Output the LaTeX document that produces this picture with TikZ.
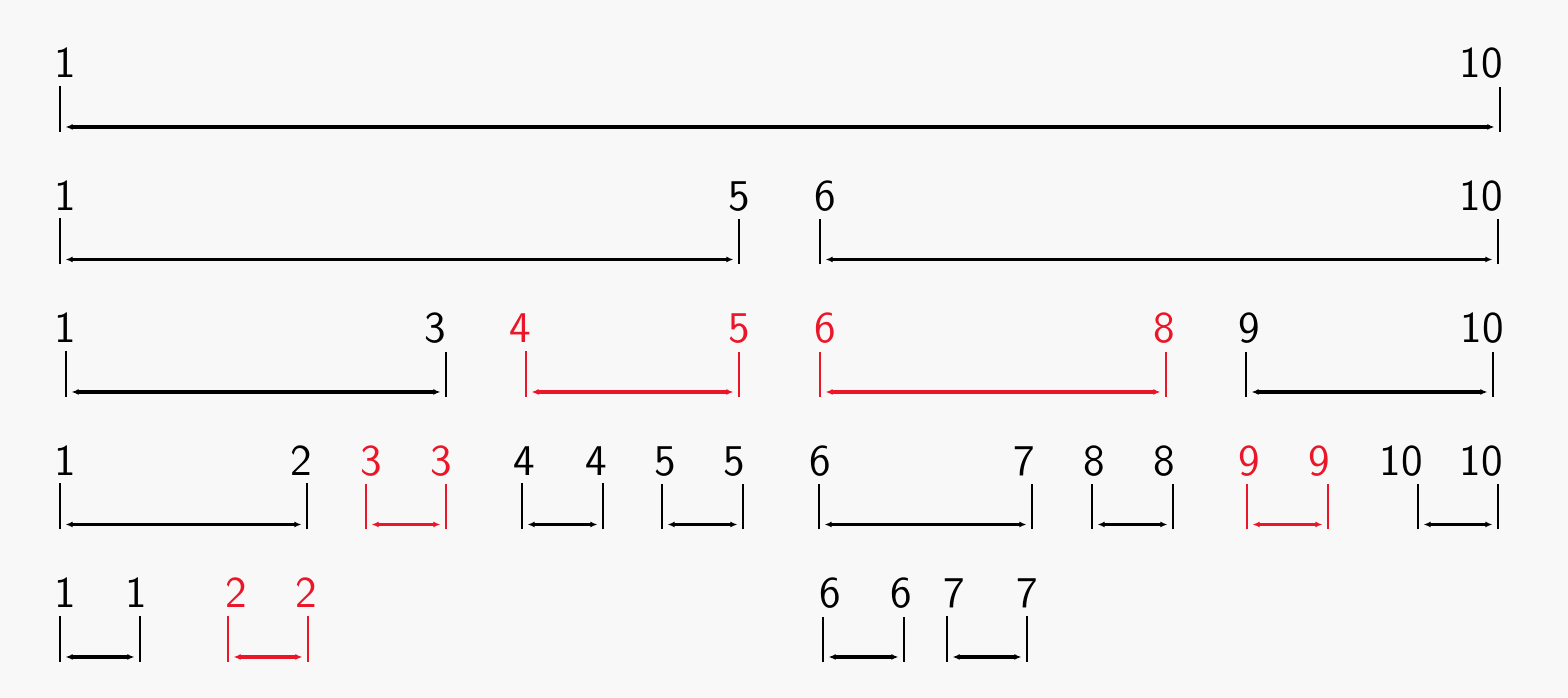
\documentclass[tikz,border=0pt]{standalone}
\usepackage{tikz}
\usetikzlibrary{arrows.meta}
\definecolor{paper}{RGB}{248,248,248}
\definecolor{hotred}{RGB}{235,22,40}

\begin{document}
\begin{tikzpicture}[x=0.01cm, y=-0.01cm,
  num/.style={anchor=base, inner sep=2pt, font=\sffamily\fontsize{12.5}{14}\selectfont},
  stub/.style={line width=0.55pt},
  seg/.style={line width=1pt, {Latex[length=2pt,width=1.7pt]}-{Latex[length=2pt,width=1.7pt]}, shorten <=1.6pt, shorten >=1.6pt},
  marked/.style={color=hotred}]
  \useasboundingbox (0,0) rectangle (1568,698);
  \fill[paper] (0,0) rectangle (1568,698);

  % Row 1: 1..10
  \node[num] (A1) at (65,78) {1};
  \node[num] (A10) at (1481,78) {10};
  \coordinate (A1p) at (60,127);
  \coordinate (A10p) at (1500,127);
  \draw[stub] (A1p) ++(0,5) -- (A1.south -| A1p);
  \draw[stub] (A10p) ++(0,5) -- (A10.south -| A10p);
  \draw[seg] (A1p) -- (A10p);

  % Row 2: 1..5, 6..10
  \node[num] (B1) at (65,210.5) {1};
  \node[num] (B5) at (739,210.5) {5};
  \node[num] (B6) at (825,210.5) {6};
  \node[num] (B10) at (1481,210.5) {10};
  \coordinate (B1p) at (60,259.5);
  \coordinate (B5p) at (739,259.5);
  \coordinate (B6p) at (820,259.5);
  \coordinate (B10p) at (1498,259.5);
  \draw[stub] (B1p) ++(0,5) -- (B1.south -| B1p);
  \draw[stub] (B5p) ++(0,5) -- (B5.south -| B5p);
  \draw[stub] (B6p) ++(0,5) -- (B6.south -| B6p);
  \draw[stub] (B10p) ++(0,5) -- (B10.south -| B10p);
  \draw[seg] (B1p) -- (B5p);
  \draw[seg] (B6p) -- (B10p);

  % Row 3: 1..3, 4..5, 6..8, 9..10
  \node[num] (C1) at (65,343) {1};
  \node[num] (C3) at (435,343) {3};
  \node[num, marked] (C4) at (520,343) {4};
  \node[num, marked] (C5) at (739,343) {5};
  \node[num, marked] (C6) at (825,343) {6};
  \node[num, marked] (C8) at (1164,343) {8};
  \node[num] (C9) at (1249,343) {9};
  \node[num] (C10) at (1482,343) {10};
  \coordinate (C1p) at (66,392);
  \coordinate (C3p) at (446,392);
  \coordinate (C4p) at (526,392);
  \coordinate (C5p) at (739,392);
  \coordinate (C6p) at (820,392);
  \coordinate (C8p) at (1166,392);
  \coordinate (C9p) at (1246,392);
  \coordinate (C10p) at (1493,392);
  \draw[stub] (C1p) ++(0,5) -- (C1.south -| C1p);
  \draw[stub] (C3p) ++(0,5) -- (C3.south -| C3p);
  \draw[stub, marked] (C4p) ++(0,5) -- (C4.south -| C4p);
  \draw[stub, marked] (C5p) ++(0,5) -- (C5.south -| C5p);
  \draw[stub, marked] (C6p) ++(0,5) -- (C6.south -| C6p);
  \draw[stub, marked] (C8p) ++(0,5) -- (C8.south -| C8p);
  \draw[stub] (C9p) ++(0,5) -- (C9.south -| C9p);
  \draw[stub] (C10p) ++(0,5) -- (C10.south -| C10p);
  \draw[seg] (C1p) -- (C3p);
  \draw[seg, marked] (C4p) -- (C5p);
  \draw[seg, marked] (C6p) -- (C8p);
  \draw[seg] (C9p) -- (C10p);

  % Row 4
  \node[num] (D1) at (65,475.5) {1};
  \node[num] (D2) at (301,475.5) {2};
  \node[num, marked] (D3a) at (371,475.5) {3};
  \node[num, marked] (D3b) at (441,475.5) {3};
  \node[num] (D4a) at (524,475.5) {4};
  \node[num] (D4b) at (596,475.5) {4};
  \node[num] (D5a) at (665,475.5) {5};
  \node[num] (D5b) at (734,475.5) {5};
  \node[num] (D6) at (820,475.5) {6};
  \node[num] (D7) at (1024,475.5) {7};
  \node[num] (D8a) at (1094,475.5) {8};
  \node[num] (D8b) at (1164,475.5) {8};
  \node[num, marked] (D9a) at (1249,475.5) {9};
  \node[num, marked] (D9b) at (1319,475.5) {9};
  \node[num] (D10a) at (1401,475.5) {10};
  \node[num] (D10b) at (1481,475.5) {10};
  \coordinate (D1p) at (60,524.5);
  \coordinate (D2p) at (307,524.5);
  \coordinate (D3ap) at (366,524.5);
  \coordinate (D3bp) at (446,524.5);
  \coordinate (D4ap) at (522,524.5);
  \coordinate (D4bp) at (603,524.5);
  \coordinate (D5ap) at (662,524.5);
  \coordinate (D5bp) at (743,524.5);
  \coordinate (D6p) at (819,524.5);
  \coordinate (D7p) at (1032,524.5);
  \coordinate (D8ap) at (1092,524.5);
  \coordinate (D8bp) at (1173,524.5);
  \coordinate (D9ap) at (1247,524.5);
  \coordinate (D9bp) at (1328,524.5);
  \coordinate (D10ap) at (1418,524.5);
  \coordinate (D10bp) at (1498,524.5);
  \draw[stub] (D1p) ++(0,5) -- (D1.south -| D1p);
  \draw[stub] (D2p) ++(0,5) -- (D2.south -| D2p);
  \draw[stub, marked] (D3ap) ++(0,5) -- (D3a.south -| D3ap);
  \draw[stub, marked] (D3bp) ++(0,5) -- (D3b.south -| D3bp);
  \draw[stub] (D4ap) ++(0,5) -- (D4a.south -| D4ap);
  \draw[stub] (D4bp) ++(0,5) -- (D4b.south -| D4bp);
  \draw[stub] (D5ap) ++(0,5) -- (D5a.south -| D5ap);
  \draw[stub] (D5bp) ++(0,5) -- (D5b.south -| D5bp);
  \draw[stub] (D6p) ++(0,5) -- (D6.south -| D6p);
  \draw[stub] (D7p) ++(0,5) -- (D7.south -| D7p);
  \draw[stub] (D8ap) ++(0,5) -- (D8a.south -| D8ap);
  \draw[stub] (D8bp) ++(0,5) -- (D8b.south -| D8bp);
  \draw[stub, marked] (D9ap) ++(0,5) -- (D9a.south -| D9ap);
  \draw[stub, marked] (D9bp) ++(0,5) -- (D9b.south -| D9bp);
  \draw[stub] (D10ap) ++(0,5) -- (D10a.south -| D10ap);
  \draw[stub] (D10bp) ++(0,5) -- (D10b.south -| D10bp);
  \draw[seg] (D1p) -- (D2p);
  \draw[seg, marked] (D3ap) -- (D3bp);
  \draw[seg] (D4ap) -- (D4bp);
  \draw[seg] (D5ap) -- (D5bp);
  \draw[seg] (D6p) -- (D7p);
  \draw[seg] (D8ap) -- (D8bp);
  \draw[seg, marked] (D9ap) -- (D9bp);
  \draw[seg] (D10ap) -- (D10bp);

  % Row 5
  \node[num] (E1a) at (65,608) {1};
  \node[num] (E1b) at (136,608) {1};
  \node[num, marked] (E2a) at (236,608) {2};
  \node[num, marked] (E2b) at (306,608) {2};
  \node[num] (E6a) at (830,608) {6};
  \node[num] (E6b) at (901,608) {6};
  \node[num] (E7a) at (954,608) {7};
  \node[num] (E7b) at (1027,608) {7};
  \coordinate (E1ap) at (60,657);
  \coordinate (E1bp) at (140,657);
  \coordinate (E2ap) at (228,657);
  \coordinate (E2bp) at (308,657);
  \coordinate (E6ap) at (823,657);
  \coordinate (E6bp) at (904,657);
  \coordinate (E7ap) at (947,657);
  \coordinate (E7bp) at (1027,657);
  \draw[stub] (E1ap) ++(0,5) -- (E1a.south -| E1ap);
  \draw[stub] (E1bp) ++(0,5) -- (E1b.south -| E1bp);
  \draw[stub, marked] (E2ap) ++(0,5) -- (E2a.south -| E2ap);
  \draw[stub, marked] (E2bp) ++(0,5) -- (E2b.south -| E2bp);
  \draw[stub] (E6ap) ++(0,5) -- (E6a.south -| E6ap);
  \draw[stub] (E6bp) ++(0,5) -- (E6b.south -| E6bp);
  \draw[stub] (E7ap) ++(0,5) -- (E7a.south -| E7ap);
  \draw[stub] (E7bp) ++(0,5) -- (E7b.south -| E7bp);
  \draw[seg] (E1ap) -- (E1bp);
  \draw[seg, marked] (E2ap) -- (E2bp);
  \draw[seg] (E6ap) -- (E6bp);
  \draw[seg] (E7ap) -- (E7bp);
\end{tikzpicture}
\end{document}
